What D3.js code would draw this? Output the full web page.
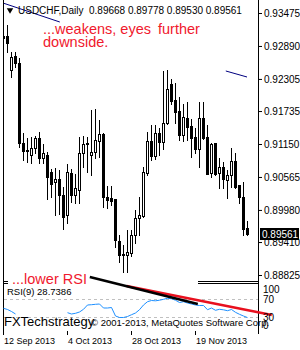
<!DOCTYPE html>
<html>
<head>
<meta charset="utf-8">
<script src="https://cdn.jsdelivr.net/npm/d3@7/dist/d3.min.js"></script>
<style>
body { margin: 0; background: #fff; }
svg { display: block; }
</style>
</head>
<body>
<script>
var width = 300, height = 350;

// chart header
var symbol = "USDCHF,Daily";
var lastOHLC = [0.89668, 0.89778, 0.89530, 0.89561];

// daily candles, 12 Sep 2013 onwards (one entry per bar)
var opens = [0.93031, 0.93067, 0.92463, 0.92712, 0.92588, 0.91168, 0.91050, 0.90955, 0.91079, 0.91256,
             0.90902, 0.90955, 0.90653, 0.90476, 0.90529, 0.90245, 0.89890, 0.90635, 0.90245, 0.90334,
             0.90990, 0.91160, 0.90955, 0.91008, 0.91203, 0.91327, 0.90209, 0.90192, 0.90174, 0.89428,
             0.89200, 0.89180, 0.89215, 0.89535, 0.89837, 0.89872, 0.90635, 0.91203, 0.90937, 0.91345,
             0.91186, 0.91523, 0.92215, 0.91931, 0.91736, 0.91310, 0.91611, 0.91469, 0.91274, 0.91061,
             0.91611, 0.91274, 0.90635, 0.91160, 0.90635, 0.90742, 0.90511, 0.90600, 0.90848, 0.90422,
             0.90209, 0.89668];
var highs = [0.93386, 0.93262, 0.92783, 0.92783, 0.92676, 0.91345, 0.91256, 0.91274, 0.91292, 0.91363,
             0.91150, 0.91008, 0.90706, 0.90724, 0.90689, 0.90387, 0.90795, 0.90706, 0.90618, 0.91274,
             0.91292, 0.91274, 0.91753, 0.91771, 0.91576, 0.91340, 0.90405, 0.90405, 0.90180, 0.89535,
             0.89357, 0.89624, 0.89624, 0.89979, 0.90209, 0.90742, 0.91363, 0.91487, 0.91487, 0.91434,
             0.92446, 0.92463, 0.92304, 0.92233, 0.91984, 0.91860, 0.91895, 0.91594, 0.91434, 0.91895,
             0.91895, 0.91487, 0.91168, 0.91168, 0.90902, 0.90831, 0.90689, 0.91079, 0.90990, 0.90430,
             0.90476, 0.89778];
var lows = [0.92694, 0.92783, 0.92339, 0.92517, 0.91097, 0.90866, 0.90831, 0.90813, 0.90990, 0.90813,
            0.90813, 0.90174, 0.90209, 0.89890, 0.89908, 0.89641, 0.89748, 0.90121, 0.90103, 0.90103,
            0.90742, 0.90653, 0.90600, 0.90902, 0.90919, 0.90032, 0.90014, 0.90067, 0.89322, 0.89056,
            0.88878, 0.88878, 0.89162, 0.89393, 0.89535, 0.89854, 0.90600, 0.90866, 0.90884, 0.90955,
            0.91061, 0.91510, 0.91860, 0.91523, 0.91221, 0.91203, 0.91221, 0.90919, 0.90990, 0.90742,
            0.91239, 0.90610, 0.90564, 0.90600, 0.90369, 0.90369, 0.90192, 0.90387, 0.90369, 0.90103,
            0.89535, 0.89530];
var closes = [0.93067, 0.92943, 0.92694, 0.92588, 0.91168, 0.91026, 0.91040, 0.91079, 0.91256, 0.90902,
              0.90990, 0.90564, 0.90440, 0.90529, 0.90245, 0.89854, 0.90653, 0.90245, 0.90369, 0.90990,
              0.91150, 0.91168, 0.91008, 0.91221, 0.91327, 0.90209, 0.90156, 0.90138, 0.89446, 0.89180,
              0.89196, 0.89233, 0.89535, 0.89837, 0.89890, 0.90653, 0.91203, 0.90937, 0.91345, 0.91186,
              0.91523, 0.92126, 0.91913, 0.91718, 0.91310, 0.91629, 0.91452, 0.91256, 0.91061, 0.91611,
              0.91256, 0.90618, 0.91150, 0.90618, 0.90742, 0.90529, 0.90600, 0.90848, 0.90387, 0.90209,
              0.89641, 0.89561];

// RSI(9), null where the line is hidden under the caption
var rsi = [49.3, 46.7, 42.2, 36.7, null, null, null, null, null, null,
           null, null, null, null, null, null, 39.6, 36.7, 38.2, 41.1,
           47.1, 56.7, 57.3, 58.2, 58.9, 50.0, 50.0, 51.1, 32.2, 28.9,
           28.9, 31.1, 35.1, 38.9, 46.2, 56.7, 64.0, 66.7, 66.0, 67.3,
           69.3, 71.6, 70.4, 67.3, 62.2, 64.0, 61.1, 58.9, 56.7, 55.6,
           55.6, 46.2, 50.0, 44.9, 47.1, 46.0, 44.0, 46.7, 40.4, 36.0,
           32.2, 28.7386];

var priceTicks = [0.93475, 0.92890, 0.92305, 0.91735, 0.91150, 0.90565, 0.89980, 0.89410, 0.88825];
var rsiTicks = [100, 70, 30, 0];
var rsiLevels = [70, 30];
var dateBars = [0, 16, 32, 48];
var dateLabels = ["12 Sep 2013", "4 Oct 2013", "28 Oct 2013", "19 Nov 2013"];

// trend lines: [bar, value]
var navyLines = [[[0, 0.93652], [14.2, 0.93315]], [[55.7, 0.92446], [61, 0.92339]]];
var redLine = [[30.9, 98.9], [67.2, 34.4]];
var blackLine = [[21.7, 118.9], [48.7, 58.9]];

var font = "'Liberation Sans', Arial, sans-serif";

var svg = d3.select("body").append("svg")
            .attr("width", width)
            .attr("height", height)
            .style("font-family", font);

var left = 3, right = 258, mainBottom = 281, rsiTop = 284, rsiBottom = 331;

var x = d3.scaleLinear().domain([0, 61]).range([3, 247]);
var y = d3.scaleLinear().domain([0.88825, 0.93475]).range([275, 13]);
var yR = d3.scaleLinear().domain([0, 100]).range([330.5, 285.5]);

svg.append("clipPath").attr("id", "mainClip")
   .append("rect").attr("x", left).attr("y", 0).attr("width", right - left).attr("height", mainBottom);
svg.append("clipPath").attr("id", "rsiClip")
   .append("rect").attr("x", left).attr("y", rsiTop).attr("width", right - left).attr("height", rsiBottom - rsiTop);

// candles
var bars = d3.range(opens.length).map(function(i) {
  return {i: i, o: opens[i], h: highs[i], l: lows[i], c: closes[i]};
});

var candles = svg.append("g").attr("clip-path", "url(#mainClip)");

candles.selectAll("line.wick")
       .data(bars)
       .enter()
       .append("line")
       .attr("class", "wick")
       .attr("x1", function(d) { return x(d.i) + 0.5; })
       .attr("x2", function(d) { return x(d.i) + 0.5; })
       .attr("y1", function(d) { return Math.round(y(d.h)); })
       .attr("y2", function(d) { return Math.round(y(d.l)) + 1; })
       .attr("stroke", "#000")
       .attr("stroke-width", 1);

candles.selectAll("rect.body")
       .data(bars)
       .enter()
       .append("rect")
       .attr("class", "body")
       .attr("x", function(d) { return d.c >= d.o ? x(d.i) - 0.5 : x(d.i) - 1; })
       .attr("y", function(d) {
          var t = Math.round(y(Math.max(d.o, d.c)));
          return d.c >= d.o ? t + 0.5 : t;
        })
       .attr("width", function(d) { return d.c >= d.o ? 2 : 3; })
       .attr("height", function(d) {
          var h = Math.round(y(Math.min(d.o, d.c))) - Math.round(y(Math.max(d.o, d.c)));
          return d.c >= d.o ? Math.max(h, 1) : Math.max(h, 1) + 1;
        })
       .attr("fill", function(d) { return d.c >= d.o ? "#fff" : "#000"; })
       .attr("stroke", function(d) { return d.c >= d.o ? "#000" : "none"; })
       .attr("stroke-width", 1);

// navy trend lines in the price window
svg.append("g").attr("clip-path", "url(#mainClip)")
   .selectAll("path")
   .data(navyLines)
   .enter()
   .append("path")
   .attr("d", d3.line().x(function(d) { return x(d[0]); }).y(function(d) { return y(d[1]); }))
   .attr("fill", "none")
   .attr("stroke", "#000080")
   .attr("stroke-width", 1);

// frame
svg.append("line").attr("x1", left + 0.5).attr("x2", left + 0.5).attr("y1", 0).attr("y2", 334).attr("stroke", "#000");
svg.append("line").attr("x1", right + 0.5).attr("x2", right + 0.5).attr("y1", 0).attr("y2", 334).attr("stroke", "#000");
svg.append("line").attr("x1", left).attr("x2", right + 1).attr("y1", mainBottom + 0.5).attr("y2", mainBottom + 0.5).attr("stroke", "#000");
svg.append("line").attr("x1", left).attr("x2", right + 1).attr("y1", rsiTop - 0.5).attr("y2", rsiTop - 0.5).attr("stroke", "#000");

// price axis
var priceAxis = svg.append("g")
                   .attr("transform", "translate(" + (right + 1) + ",0)")
                   .call(d3.axisRight(y).tickValues(priceTicks).tickFormat(d3.format(".5f")).tickSize(3).tickPadding(2));
priceAxis.select(".domain").remove();
priceAxis.selectAll("text").attr("font-size", 10).attr("font-family", font).attr("fill", "#000");

// current price label
var last = lastOHLC[3];
svg.append("rect")
   .attr("x", right + 2).attr("y", Math.round(y(last)) - 6)
   .attr("width", 39).attr("height", 12)
   .attr("fill", "#000");
svg.append("text")
   .attr("x", right + 4).attr("y", Math.round(y(last)) + 4)
   .attr("font-size", 10).attr("fill", "#fff")
   .text(d3.format(".5f")(last));

// RSI pane
svg.append("g")
   .selectAll("line")
   .data(rsiLevels)
   .enter()
   .append("line")
   .attr("x1", left + 1).attr("x2", right)
   .attr("y1", function(d) { return Math.round(yR(d)) + 0.5; })
   .attr("y2", function(d) { return Math.round(yR(d)) + 0.5; })
   .attr("stroke", "#c0c0c0")
   .attr("stroke-dasharray", "3,3");

svg.append("path")
   .datum(rsi)
   .attr("clip-path", "url(#rsiClip)")
   .attr("d", d3.line()
                .defined(function(d) { return d !== null; })
                .x(function(d, i) { return x(i) + 0.5; })
                .y(function(d) { return yR(d); }))
   .attr("fill", "none")
   .attr("stroke", "#1e90ff")
   .attr("stroke-width", 1);

svg.append("text")
   .attr("x", 7).attr("y", 295)
   .attr("font-size", 9.5)
   .text("RSI(9) " + rsi[rsi.length - 1].toFixed(4));

// date axis
var dateAxis = svg.append("g");
dateAxis.selectAll("line")
        .data(dateBars)
        .enter()
        .append("line")
        .attr("x1", function(d) { return x(d) + 0.5; })
        .attr("x2", function(d) { return x(d) + 0.5; })
        .attr("y1", 331).attr("y2", 335)
        .attr("stroke", "#000");
dateAxis.selectAll("text")
        .data(dateLabels)
        .enter()
        .append("text")
        .attr("x", function(d, i) { return x(dateBars[i]) + 1; })
        .attr("y", 344)
        .attr("font-size", 9)
        .text(function(d) { return d; });

// header
svg.append("path")
   .attr("d", d3.symbol().type(d3.symbolTriangle).size(18))
   .attr("transform", "translate(10,10) rotate(180)")
   .attr("fill", "#000");
svg.append("text").attr("x", 18).attr("y", 14).attr("font-size", 10)
   .text(symbol);
svg.append("text").attr("x", 89).attr("y", 14).attr("font-size", 10)
   .text(lastOHLC.map(d3.format(".5f")).join(" "));

// annotations
var red = "#f0192d";
svg.append("text").attr("x", 43).attr("y", 34).attr("font-size", 14.5).attr("fill", red).text("...weakens, eyes");
svg.append("text").attr("x", 158).attr("y", 34).attr("font-size", 14.5).attr("fill", red).text("further");
svg.append("text").attr("x", 43).attr("y", 47).attr("font-size", 14.5).attr("fill", red).text("downside.");

svg.append("rect").attr("x", 8).attr("y", 273).attr("width", 190).attr("height", 11).attr("fill", "#fff");
svg.append("text").attr("x", 12).attr("y", 284).attr("font-size", 14.5).attr("fill", red).text("...lower RSI");

svg.append("path")
   .datum(redLine)
   .attr("d", d3.line().x(function(d) { return x(d[0]); }).y(function(d) { return yR(d[1]); }))
   .attr("stroke", "#e8101e").attr("stroke-width", 2.5).attr("fill", "none");
svg.append("path")
   .datum(blackLine)
   .attr("d", d3.line().x(function(d) { return x(d[0]); }).y(function(d) { return yR(d[1]); }))
   .attr("stroke", "#000").attr("stroke-width", 2.5).attr("fill", "none");

// copyright
svg.append("text").attr("x", 4).attr("y", 326).attr("font-size", 13).text("FXTechstrategy");
svg.append("text").attr("x", 91).attr("y", 326).attr("font-size", 9.5)
   .text("\u00a9 2001-2013, MetaQuotes Software Corp.");

// RSI scale labels drawn last
var rsiAxis = svg.append("g")
                 .attr("transform", "translate(" + (right + 1) + ",0)")
                 .call(d3.axisRight(yR).tickValues(rsiTicks).tickSize(0).tickPadding(4));
rsiAxis.select(".domain").remove();
rsiAxis.selectAll("text")
       .attr("font-size", 10).attr("font-family", font).attr("fill", "#000")
       .attr("y", function(d) { return d === 100 ? 4 : (d === 0 ? -5 : 0); });
</script>
</body>
</html>
